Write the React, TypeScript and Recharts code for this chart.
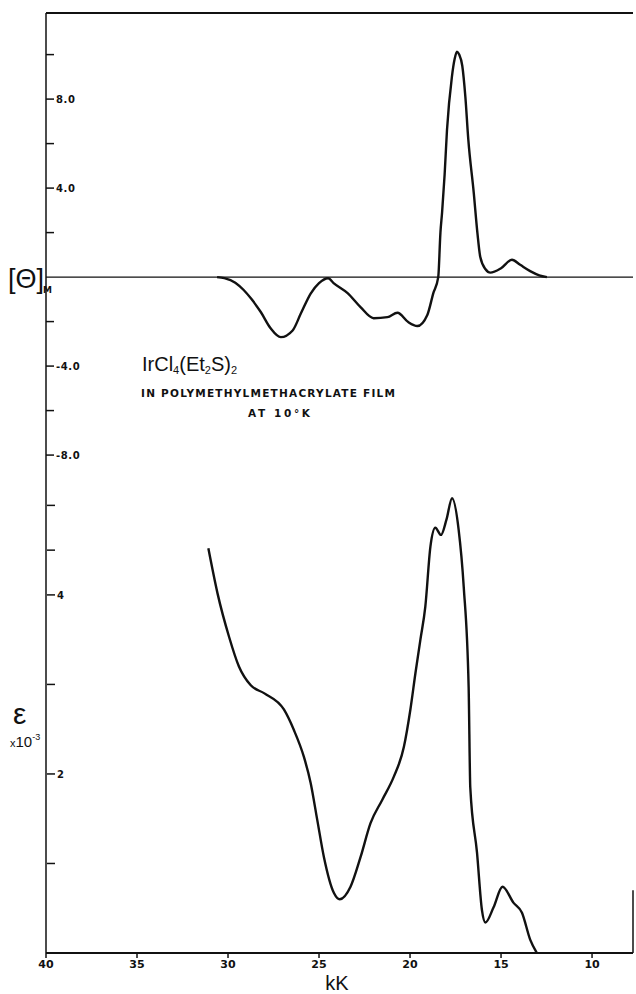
import React from "react";
import { LineChart, Line, XAxis, YAxis, ReferenceLine } from "recharts";

// wavenumber axis (kK), reversed: 40 on the left
const kkTicks = [40, 35, 30, 25, 20, 15, 10];
const KK_MIN = 7.75;
const KK_MAX = 40;

// upper panel: [Θ]M
const cdTicks = [10, 8, 6, 4, 2, -2, -4, -6, -8];
const cdTickLabels: Record<string, string> = { "8": "8.0", "4": "4.0", "-4": "-4.0", "-8": "-8.0" };
const CD_MIN = -30.38;
const CD_MAX = 11.87;

// lower panel: ε x 10^-3
const epsTicks = [5, 4.5, 4, 3, 2, 1];
const epsTickLabels: Record<string, string> = { "4": "4", "2": "2" };
const EPS_MIN = 0;
const EPS_MAX = 10.5;

const cdKK = [
  30.6, 30.2, 29.6, 29.14, 28.7, 28.2, 27.66, 27.1, 26.45, 26.0, 25.46, 25.0, 24.5, 24.2,
  23.43, 22.72, 22.0, 21.24, 20.69, 20.1, 19.6, 19.05, 18.72, 18.45, 18.33, 18.24, 18.1,
  17.97, 17.7, 17.55, 17.42, 17.3, 17.13, 16.96, 16.8, 16.5, 16.3, 16.14, 15.85, 15.59,
  15.0, 14.4, 13.95, 13.4, 12.9, 12.48,
];
const cdVal = [
  0, -0.05, -0.25, -0.58, -1.0, -1.57, -2.3, -2.7, -2.4, -1.64, -0.74, -0.27, -0.05, -0.27,
  -0.72, -1.35, -1.85, -1.8, -1.6, -2.02, -2.2, -1.7, -0.72, 0, 2.0, 2.9, 4.6,
  6.6, 9.0, 9.8, 10.13, 10.0, 9.5, 8.1, 6.2, 3.8, 2.0, 0.9, 0.35, 0.2,
  0.4, 0.78, 0.55, 0.27, 0.08, 0,
];

const epsKK = [
  31.08, 30.58, 29.94, 29.4, 28.75, 28.0, 26.93, 26.38, 25.83, 25.46, 25.1, 24.73, 24.18,
  23.86, 23.27, 22.72, 22.17, 21.53, 20.89, 20.34, 19.98, 19.7, 19.43, 19.16, 18.88, 18.61,
  18.3, 18.0, 17.69, 17.33, 17.05, 16.78, 16.69, 16.32, 16.05, 15.86, 15.41, 14.92, 14.31,
  13.85, 13.4, 13.03,
];
const epsVal = [
  4.52, 4.02, 3.53, 3.2, 2.99, 2.9, 2.72, 2.49, 2.19, 1.9, 1.49, 1.07, 0.67,
  0.6, 0.74, 1.07, 1.45, 1.71, 1.97, 2.3, 2.72, 3.13, 3.5, 3.87, 4.54, 4.75,
  4.67, 4.84, 5.08, 4.73, 4.09, 2.97, 1.85, 1.12, 0.48, 0.34, 0.51, 0.74, 0.56,
  0.45, 0.15, 0,
];

const cdData = cdKK.map((k, i) => ({ k, v: cdVal[i] }));
const epsData = epsKK.map((k, i) => ({ k, v: epsVal[i] }));

const INK = "#111";
const FONT = "Liberation Sans, Arial, sans-serif";
const BOLD = "DejaVu Sans, sans-serif";

const makeTick = (labels: Record<string, string>) => (props: any) => {
  const { x, y, payload } = props;
  const t = labels[String(payload.value)];
  if (!t) return <g />;
  return (
    <text x={x} y={y} dy={4} fontSize={10} fontWeight="bold" fontFamily={BOLD}
      letterSpacing={0.6} textAnchor="start" fill={INK}>
      {t}
    </text>
  );
};

export default function App() {
  return (
    <div style={{ position: "absolute", left: 0, top: 0, width: 636, height: 994, background: "#fff" }}>
      <LineChart width={636} height={994} margin={{ top: 13, right: 3, bottom: 11, left: 46 }}>
        <XAxis
          type="number"
          dataKey="k"
          domain={[KK_MIN, KK_MAX]}
          reversed
          allowDataOverflow
          ticks={kkTicks}
          interval={0}
          height={30}
          tickSize={5}
          tickMargin={2}
          axisLine={{ stroke: INK, strokeWidth: 2 }}
          tickLine={{ stroke: INK, strokeWidth: 1.5 }}
          tick={{ fontSize: 11, fontWeight: "bold", fill: INK, fontFamily: BOLD }}
        />
        <YAxis
          yAxisId="cd"
          type="number"
          domain={[CD_MIN, CD_MAX]}
          allowDataOverflow
          ticks={cdTicks}
          interval={0}
          mirror
          width={1}
          tickSize={8}
          tickMargin={2}
          axisLine={{ stroke: INK, strokeWidth: 1.5 }}
          tickLine={{ stroke: INK, strokeWidth: 1.5 }}
          tick={makeTick(cdTickLabels)}
        />
        <YAxis
          yAxisId="eps"
          type="number"
          domain={[EPS_MIN, EPS_MAX]}
          allowDataOverflow
          ticks={epsTicks}
          interval={0}
          mirror
          width={1}
          tickSize={8}
          tickMargin={2}
          axisLine={false}
          tickLine={{ stroke: INK, strokeWidth: 1.5 }}
          tick={makeTick(epsTickLabels)}
        />
        <ReferenceLine yAxisId="cd" y={0} stroke={INK} strokeWidth={1.3} />
        <ReferenceLine yAxisId="cd" y={CD_MAX} stroke={INK} strokeWidth={2} />
        <ReferenceLine
          yAxisId="eps"
          segment={[{ x: KK_MIN, y: 0 }, { x: KK_MIN, y: 0.7 }]}
          stroke={INK}
          strokeWidth={1.5}
        />
        <Line
          yAxisId="cd"
          data={cdData}
          dataKey="v"
          type="monotone"
          stroke={INK}
          strokeWidth={2.4}
          dot={false}
          isAnimationActive={false}
        />
        <Line
          yAxisId="eps"
          data={epsData}
          dataKey="v"
          type="monotone"
          stroke={INK}
          strokeWidth={2.4}
          dot={false}
          isAnimationActive={false}
        />
      </LineChart>
      <svg width={636} height={994} style={{ position: "absolute", left: 0, top: 0, pointerEvents: "none" }}>
        <text x={8} y={288} fontSize={27} fontFamily={FONT} fill={INK}>
          [Θ]
        </text>
        <text x={43} y={293} fontSize={9} fontWeight="bold" fontFamily={BOLD} fill={INK}>
          M
        </text>
        <text x={13} y={724} fontSize={30} fontFamily={FONT} fill={INK}>
          ε
        </text>
        <text x={10} y={747} fontFamily={FONT} fill={INK}>
          <tspan fontSize={11}>x</tspan>
          <tspan fontSize={15}>10</tspan>
          <tspan fontSize={9} dy={-7}>-3</tspan>
        </text>
        <text x={142} y={371} fontSize={20} fontFamily={FONT} fill={INK}>
          <tspan>IrCl</tspan>
          <tspan fontSize={11} dy={3}>4</tspan>
          <tspan dy={-3}>(Et</tspan>
          <tspan fontSize={11} dy={3}>2</tspan>
          <tspan dy={-3}>S)</tspan>
          <tspan fontSize={11} dy={3}>2</tspan>
        </text>
        <text x={141} y={397} fontSize={10.5} fontWeight="bold" fontFamily={BOLD} fill={INK}
          textLength={254} lengthAdjust="spacing">
          IN POLYMETHYLMETHACRYLATE FILM
        </text>
        <text x={248} y={417} fontSize={10.5} fontWeight="bold" fontFamily={BOLD} fill={INK}
          textLength={62} lengthAdjust="spacing">
          AT  10°K
        </text>
        <text x={337} y={990} fontSize={20} fontFamily={FONT} fill={INK} textAnchor="middle">
          kK
        </text>
      </svg>
    </div>
  );
}
